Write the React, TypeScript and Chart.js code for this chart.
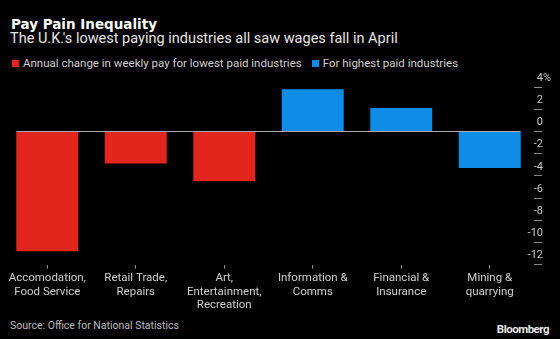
import React, { useEffect, useRef } from "react";
import { Chart, registerables } from "chart.js";

Chart.register(...registerables);

const categories: string[][] = [
  ["Accomodation,", "Food Service"],
  ["Retail Trade,", "Repairs"],
  ["Art,", "Entertainment,", "Recreation"],
  ["Information &", "Comms"],
  ["Financial &", "Insurance"],
  ["Mining &", "quarrying"],
];
const lowestPaid: (number | null)[] = [-10.8, -2.9, -4.5, null, null, null];
const highestPaid: (number | null)[] = [null, null, null, 3.8, 2.1, -3.3];
const yTicks: number[] = [4, 2, 0, -2, -4, -6, -8, -10, -12];

const RED = "#e2261e";
const BLUE = "#0f8ce6";
const FONT = "Roboto, 'Liberation Sans', sans-serif";
const LABEL_OFFSET = -9;
const LABEL_PAD = 9;

const zeroLinePlugin = {
  id: "zeroLine",
  beforeDatasetsDraw(chart: any) {
    const { ctx, scales } = chart;
    const y = scales.y.getPixelForValue(0);
    let minX = Infinity;
    let maxX = -Infinity;
    chart.data.datasets.forEach((_: any, i: number) => {
      chart.getDatasetMeta(i).data.forEach((el: any) => {
        if (el && !el.skip && el.width) {
          minX = Math.min(minX, el.x - el.width / 2);
          maxX = Math.max(maxX, el.x + el.width / 2);
        }
      });
    });
    ctx.save();
    ctx.strokeStyle = "#a9a9a9";
    ctx.lineWidth = 1;
    ctx.beginPath();
    ctx.moveTo(minX, Math.round(y) + 0.5);
    ctx.lineTo(maxX, Math.round(y) + 0.5);
    ctx.stroke();
    ctx.restore();
  },
  afterDraw(chart: any) {
    // percent sign after the top tick label
    const { ctx, scales } = chart;
    const s = scales.y;
    const y = s.getPixelForValue(yTicks[0]) + LABEL_OFFSET;
    const x = s.left + LABEL_PAD;
    ctx.save();
    ctx.font = `11px ${FONT}`;
    ctx.fillStyle = "#c8c8c8";
    ctx.textBaseline = "middle";
    ctx.textAlign = "left";
    ctx.fillText("%", x, y);
    ctx.restore();
  },
};

export default function App() {
  const ref = useRef<HTMLCanvasElement | null>(null);

  useEffect(() => {
    if (!ref.current) return;
    const chart = new Chart(ref.current, {
      type: "bar",
      data: {
        labels: categories,
        datasets: [
          {
            label: "Annual change in weekly pay for lowest paid industries",
            data: lowestPaid,
            backgroundColor: RED,
            grouped: false,
            categoryPercentage: 0.7,
            barPercentage: 1,
          } as any,
          {
            label: "For highest paid industries",
            data: highestPaid,
            backgroundColor: BLUE,
            grouped: false,
            categoryPercentage: 0.7,
            barPercentage: 1,
          } as any,
        ],
      },
      options: {
        animation: false,
        responsive: false,
        maintainAspectRatio: false,
        layout: { padding: { top: 27, left: 3, right: 0, bottom: 0 } },
        plugins: { legend: { display: false }, tooltip: { enabled: false } },
        scales: {
          x: {
            offset: true,
            border: { display: false },
            grid: {
              offset: false,
              drawOnChartArea: false,
              drawTicks: true,
              tickLength: 4,
              color: "#8a8a8a",
            },
            ticks: {
              color: "#cfcfcf",
              font: { family: FONT, size: 11.5, lineHeight: 1.17 },
              padding: 3,
              maxRotation: 0,
              autoSkip: false,
            },
          },
          y: {
            position: "right",
            min: -12,
            max: 4,
            border: { display: false },
            afterFit: (s: any) => {
              s.width = 26;
            },
            afterBuildTicks: (s: any) => {
              s.ticks = yTicks.map((v) => ({ value: v }));
            },
            grid: {
              drawOnChartArea: false,
              drawTicks: true,
              tickLength: 8,
              color: "#8a8a8a",
            },
            ticks: {
              color: "#c8c8c8",
              font: { family: FONT, size: 11 },
              mirror: true,
              crossAlign: "near",
              padding: LABEL_PAD,
              labelOffset: LABEL_OFFSET,
              callback: (v: any) => String(v),
            },
          },
        },
      },
      plugins: [zeroLinePlugin],
    });
    return () => chart.destroy();
  }, []);

  return (
    <div
      style={{
        position: "fixed",
        left: 0,
        top: 0,
        width: 560,
        height: 339,
        background: "#000",
        overflow: "hidden",
        fontFamily: FONT,
      }}
    >
      <div
        style={{
          position: "absolute",
          left: 11,
          top: 15,
          fontSize: 13.5,
          fontFamily: "'DejaVu Sans', sans-serif",
          fontWeight: 700,
          color: "#ffffff",
          lineHeight: "18px",
          whiteSpace: "nowrap",
        }}
      >
        Pay Pain Inequality
      </div>
      <div
        style={{
          position: "absolute",
          left: 10,
          top: 30,
          fontSize: 14.5,
          color: "#e6e6e6",
          lineHeight: "18px",
          whiteSpace: "nowrap",
        }}
      >
        The U.K.'s lowest paying industries all saw wages fall in April
      </div>
      <div
        style={{
          position: "absolute",
          left: 12,
          top: 56,
          fontSize: 11.5,
          color: "#cfcfcf",
          lineHeight: "14px",
          whiteSpace: "nowrap",
          display: "flex",
          alignItems: "center",
        }}
      >
        <span style={{ display: "inline-block", width: 7, height: 7, background: RED, marginRight: 4 }} />
        <span>Annual change in weekly pay for lowest paid industries</span>
        <span style={{ display: "inline-block", width: 7, height: 7, background: BLUE, marginLeft: 10, marginRight: 4 }} />
        <span>For highest paid industries</span>
      </div>
      <canvas
        ref={ref}
        width={560}
        height={255}
        style={{ position: "absolute", left: 0, top: 60, width: 560, height: 255 }}
      />
      <div
        style={{
          position: "absolute",
          left: 10,
          top: 319,
          fontSize: 10.5,
          color: "#bdbdbd",
          lineHeight: "14px",
          whiteSpace: "nowrap",
        }}
      >
        Source: Office for National Statistics
      </div>
      <div
        style={{
          position: "absolute",
          right: 11,
          top: 322,
          fontSize: 11.5,
          fontWeight: 700,
          letterSpacing: "-0.5px",
          color: "#e8e8e8",
          lineHeight: "14px",
          whiteSpace: "nowrap",
        }}
      >
        Bloomberg
      </div>
    </div>
  );
}
